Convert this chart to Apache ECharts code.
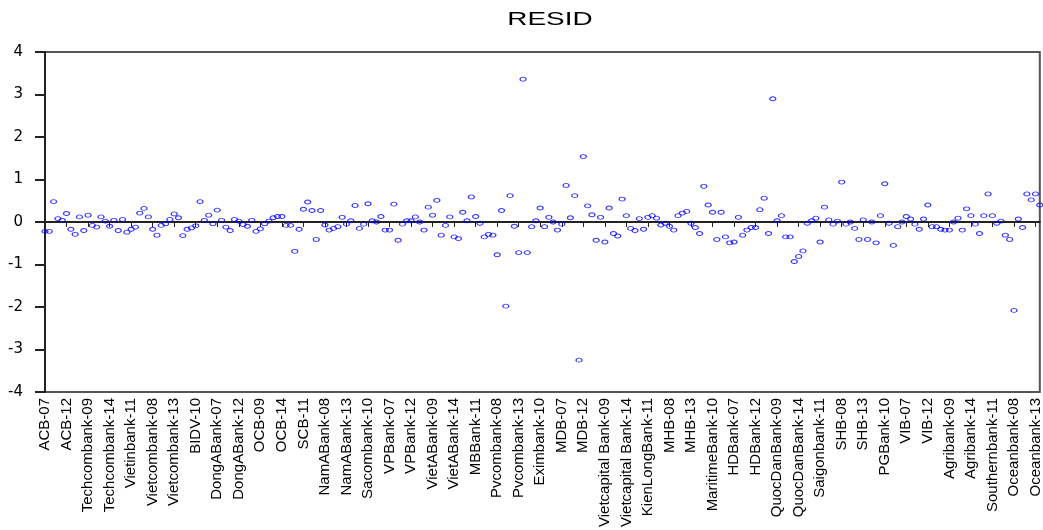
<!DOCTYPE html>
<html>
<head>
<meta charset="utf-8">
<script src="https://cdn.jsdelivr.net/npm/echarts@6/dist/echarts.min.js"></script>
<style>
html,body{margin:0;padding:0;background:#fff;}
#c{width:1043px;height:530px;}
</style>
</head>
<body>
<div id="c"></div>
<script>
var banks = ['ACB','Techcombank','Vietinbank','Vietcombank','BIDV','DongABank','OCB','SCB','NamABank','Sacombank','VPBank','VietABank','MBBank','Pvcombank','Eximbank','MDB','Vietcapital Bank','KienLongBank','MHB','MaritimeBank','HDBank','QuocDanBank','Saigonbank','SHB','PGBank','VIB','Agribank','Southernbank','Oceanbank'];
var years = ['07','08','09','10','11','12','13','14'];
var yTicks = [-4,-3,-2,-1,0,1,2,3,4];
var resid = [
-0.22,-0.22,0.48,0.08,0.04,0.2,-0.17,-0.29,0.12,-0.2,
0.16,-0.08,-0.12,0.12,0.02,-0.1,0.04,-0.2,0.06,-0.24,
-0.17,-0.12,0.21,0.32,0.12,-0.17,-0.31,-0.08,-0.04,0.06,
0.19,0.1,-0.32,-0.17,-0.14,-0.09,0.48,0.04,0.16,-0.04,
0.28,0.04,-0.12,-0.2,0.06,0.02,-0.06,-0.1,0.04,-0.22,
-0.16,-0.04,0.02,0.1,0.13,0.13,-0.08,-0.08,
-0.69,
-0.17,0.3,0.47,0.27,-0.41,0.27,-0.07,-0.19,-0.15,-0.11,
0.11,-0.05,0.03,0.39,-0.15,-0.05,0.43,0.03,0.0,0.13,
-0.19,-0.19,0.42,-0.43,-0.05,0.03,0.03,0.12,0.0,-0.19,
0.35,0.16,0.51,-0.31,-0.08,0.12,-0.35,-0.39,0.23,0.03,
0.59,0.13,-0.03,-0.35,-0.29,-0.31,
-0.77,0.27,-1.98,0.62,-0.1,-0.72,3.36,-0.72,-0.11,0.03,
0.33,-0.11,0.11,0,-0.19,-0.05,0.86,0.1,0.62,-3.25,1.54,
0.38,0.17,-0.43,0.11,-0.47,0.33,-0.27,-0.33,0.54,0.15,
-0.15,-0.2,0.08,-0.17,0.11,0.15,0.09,-0.07,-0.03,-0.1,
-0.19,0.15,0.21,0.25,-0.03,-0.13,-0.27,0.84,
0.4,0.23,-0.41,0.23,-0.35,-0.49,-0.47,0.11,-0.31,-0.19,
-0.13,-0.13,0.29,0.56,-0.27,2.9,
0.03,0.15,-0.35,-0.35,-0.93,-0.81,-0.68,-0.03,0.03,0.09,
-0.47,0.35,0.05,-0.05,0.02,0.94,
-0.05,0,-0.15,-0.41,0.05,-0.41,0,-0.49,0.15,0.9,
-0.03,-0.55,-0.11,0,0.13,0.07,-0.05,-0.17,0.07,0.4,
-0.11,-0.11,-0.17,-0.19,-0.19,0,0.09,-0.19,0.31,0.15,
-0.05,-0.27,0.15,0.66,
0.15,-0.03,0.02,-0.31,-0.41,-2.08,0.07,-0.13,0.66,0.52,0.66,0.4
];

var categories = [];
banks.forEach(function(b){ years.forEach(function(y){ categories.push(b + '-' + y); }); });

var chart = echarts.init(document.getElementById('c'), null, {renderer:'canvas'});
chart.setOption({
  animation:false,
  backgroundColor:'#ffffff',
  graphic:[{
    type:'text', x:550, y:20, scaleX:1.55, scaleY:1,
    style:{text:'RESID', font:'18px "Liberation Sans", Arial, sans-serif', fill:'#000', align:'center', verticalAlign:'middle'}
  }],
  grid:{left:45, top:52, width:1001, height:340, show:true, borderColor:'#555', borderWidth:2, containLabel:false},
  xAxis:{
    type:'category', data:categories, boundaryGap:false,
    axisLine:{show:true, lineStyle:{color:'#222', width:2}},
    axisTick:{show:true, interval:4, length:5, inside:false, lineStyle:{color:'#222', width:1}},
    axisLabel:{interval:4, rotate:90, margin:6, fontSize:15, color:'#000', fontFamily:'"Liberation Sans", Arial, sans-serif'},
    splitLine:{show:false}
  },
  yAxis:{
    type:'value', min:yTicks[0], max:yTicks[yTicks.length-1], interval:1,
    axisLine:{show:true, lineStyle:{color:'#222', width:2}},
    axisTick:{show:true, length:10, inside:false, lineStyle:{color:'#222', width:2}},
    axisLabel:{margin:22, fontSize:15, color:'#000', fontFamily:'"DejaVu Sans", sans-serif'},
    splitLine:{show:false}
  },
  series:[{
    type:'scatter', data:resid, symbol:'circle', symbolSize:[6,4],
    itemStyle:{color:'rgba(0,0,0,0)', borderColor:'#0000ff', borderWidth:1},
    emphasis:{disabled:true}, silent:true
  }]
});
</script>
</body>
</html>
